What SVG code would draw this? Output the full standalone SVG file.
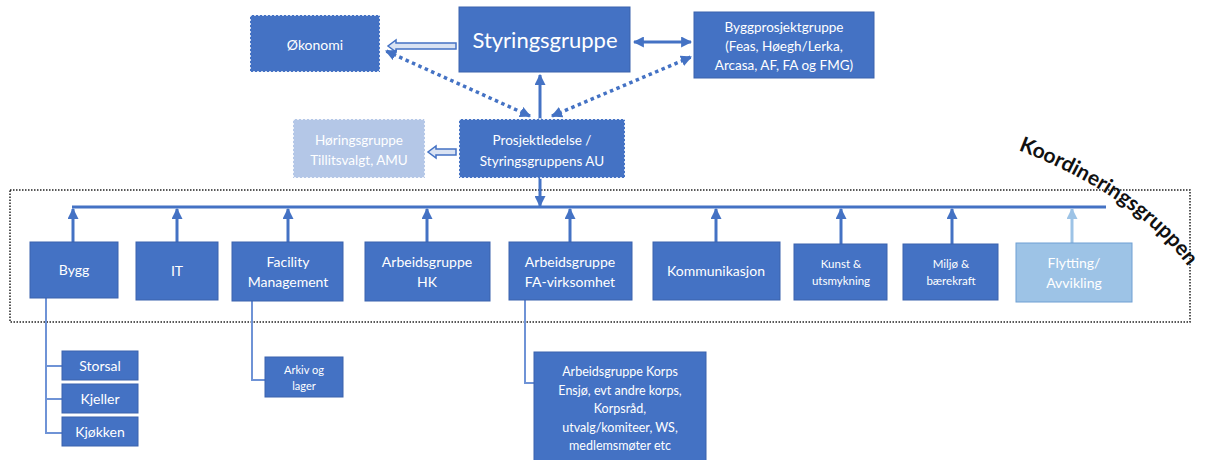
<svg xmlns="http://www.w3.org/2000/svg" width="1220" height="460" viewBox="0 0 1220 460">
<defs>
<style>
.box{fill:#4472c4;stroke:#3a62ad;stroke-width:1}
.dbox{fill:#4472c4;stroke:#ffffff;stroke-width:1.5;stroke-dasharray:2 2}
.lbox{fill:#b4c7e7;stroke:#ffffff;stroke-width:1.5;stroke-dasharray:2 2}
.fbox{fill:#9dc3e6;stroke:#6f9fd3;stroke-width:1}
.t{font-family:Lato,"Open Sans","Liberation Sans",sans-serif;fill:#ffffff;text-anchor:middle}
.up{stroke:#4472c4;stroke-width:3;fill:none;marker-end:url(#ah)}
.sub{stroke:#6f93d6;stroke-width:2;fill:none}
.dot{stroke:#4472c4;stroke-width:3.5;stroke-dasharray:3.5 3.5;fill:none;marker-start:url(#ah);marker-end:url(#ah)}
</style>
<marker id="ah" viewBox="0 0 10 10" refX="9" refY="5" markerUnits="userSpaceOnUse" markerWidth="11" markerHeight="11" orient="auto-start-reverse"><path d="M0,0 L10,5 L0,10 Z" fill="#4472c4"/></marker>
<marker id="ahl" viewBox="0 0 10 10" refX="9" refY="5" markerUnits="userSpaceOnUse" markerWidth="11" markerHeight="11" orient="auto-start-reverse"><path d="M0,0 L10,5 L0,10 Z" fill="#9dc3e6"/></marker>
</defs>

<g id="koordineringsgruppen-frame">
<rect x="10" y="190" width="1180" height="132" fill="none" stroke="#222" stroke-width="1.5" stroke-dasharray="1.5 1.5"/>
<path id="kpath" d="M1018,150 Q1152,202 1204,290" fill="none"/>
<text style="font-family:Lato,'Open Sans','Liberation Sans',sans-serif;font-weight:bold;font-size:21px;fill:#111"><textPath href="#kpath">Koordineringsgruppen</textPath></text>
</g>

<g id="connectors">
<path d="M456,43 L396,43 L396,40 L388,46 L396,52 L396,49 L456,49 Z" fill="#dae3f3" stroke="#4472c4" stroke-width="1.5"/>
<path d="M456,149 L436,149 L436,146 L428,152 L436,158 L436,155 L456,155 Z" fill="#dae3f3" stroke="#4472c4" stroke-width="1.5"/>
<line x1="634" y1="42" x2="691" y2="42" class="up" style="marker-start:url(#ah)"/>
<line x1="530" y1="116" x2="386" y2="51" class="dot"/>
<line x1="552" y1="116" x2="691" y2="57" class="dot"/>
<line x1="540" y1="119" x2="540" y2="75" class="up"/>
<line x1="540" y1="178" x2="540" y2="206" class="up"/>
<line x1="72" y1="207" x2="1106" y2="207" stroke="#4472c4" stroke-width="3"/>
<line x1="73" y1="242" x2="73" y2="209" class="up"/>
<line x1="177" y1="242" x2="177" y2="209" class="up"/>
<line x1="288" y1="242" x2="288" y2="209" class="up"/>
<line x1="427" y1="242" x2="427" y2="209" class="up"/>
<line x1="570" y1="242" x2="570" y2="209" class="up"/>
<line x1="716" y1="242" x2="716" y2="209" class="up"/>
<line x1="841" y1="244" x2="841" y2="209" class="up"/>
<line x1="952" y1="244" x2="952" y2="209" class="up"/>
<line x1="1072" y1="243" x2="1072" y2="209" stroke="#9dc3e6" stroke-width="3" marker-end="url(#ahl)"/>
<path d="M46,298 V433 H62 M46,366 H62 M46,399 H62" class="sub"/>
<path d="M252,301 V380 H265" class="sub"/>
<path d="M525,300 V383 H534" class="sub"/>
</g>

<g id="okonomi"><rect x="250" y="15" width="130" height="57" class="dbox"/><text x="315" y="50" class="t" font-size="14">Økonomi</text></g>
<g id="styringsgruppe"><rect x="459" y="7" width="171" height="65" class="box"/><text x="545" y="48" class="t" font-size="22">Styringsgruppe</text></g>
<g id="byggprosjektgruppe"><rect x="694" y="12" width="180" height="66" class="box"/>
<text class="t" font-size="13.5"><tspan x="784" y="32">Byggprosjektgruppe</tspan><tspan x="784" y="51">(Feas, Høegh/Lerka,</tspan><tspan x="784" y="70">Arcasa, AF, FA og FMG)</tspan></text></g>
<g id="horingsgruppe"><rect x="293" y="119" width="132" height="59" class="lbox"/>
<text class="t" font-size="13.5"><tspan x="359" y="145">Høringsgruppe</tspan><tspan x="359" y="165">Tillitsvalgt, AMU</tspan></text></g>
<g id="prosjektledelse"><rect x="459" y="119" width="166" height="59" class="dbox"/>
<text class="t" font-size="13.5"><tspan x="542" y="145">Prosjektledelse /</tspan><tspan x="542" y="166">Styringsgruppens AU</tspan></text></g>

<g id="bygg"><rect x="30" y="242" width="88" height="56" class="box"/><text x="74" y="275" class="t" font-size="14">Bygg</text></g>
<g id="it"><rect x="136" y="242" width="82" height="58" class="box"/><text x="177" y="276" class="t" font-size="14">IT</text></g>
<g id="facility"><rect x="232" y="242" width="111" height="59" class="box"/>
<text class="t" font-size="14"><tspan x="288" y="267">Facility</tspan><tspan x="288" y="287">Management</tspan></text></g>
<g id="hk"><rect x="365" y="242" width="125" height="59" class="box"/>
<text class="t" font-size="14"><tspan x="427" y="267">Arbeidsgruppe</tspan><tspan x="427" y="287">HK</tspan></text></g>
<g id="fa"><rect x="509" y="242" width="123" height="58" class="box"/>
<text class="t" font-size="14"><tspan x="570" y="267">Arbeidsgruppe</tspan><tspan x="570" y="287">FA-virksomhet</tspan></text></g>
<g id="kommunikasjon"><rect x="653" y="242" width="127" height="58" class="box"/><text x="716" y="276" class="t" font-size="14">Kommunikasjon</text></g>
<g id="kunst"><rect x="794" y="244" width="93" height="56" class="box"/>
<text class="t" font-size="11.5"><tspan x="841" y="268">Kunst &amp;</tspan><tspan x="841" y="285">utsmykning</tspan></text></g>
<g id="miljo"><rect x="903" y="244" width="95" height="56" class="box"/>
<text class="t" font-size="11.5"><tspan x="951" y="268">Miljø &amp;</tspan><tspan x="951" y="285">bærekraft</tspan></text></g>
<g id="flytting"><rect x="1016" y="243" width="116" height="59" class="fbox"/>
<text class="t" font-size="14"><tspan x="1074" y="268">Flytting/</tspan><tspan x="1074" y="288">Avvikling</tspan></text></g>

<g id="storsal"><rect x="62" y="351" width="76" height="29" class="box"/><text x="100" y="371" class="t" font-size="14">Storsal</text></g>
<g id="kjeller"><rect x="62" y="384" width="76" height="29" class="box"/><text x="100" y="404" class="t" font-size="14">Kjeller</text></g>
<g id="kjokken"><rect x="62" y="417" width="76" height="29" class="box"/><text x="100" y="437" class="t" font-size="14">Kjøkken</text></g>
<g id="arkiv"><rect x="265" y="357" width="78" height="40" class="box"/>
<text class="t" font-size="11"><tspan x="304" y="374">Arkiv og</tspan><tspan x="304" y="390">lager</tspan></text></g>
<g id="korps"><rect x="534" y="352" width="172" height="112" class="box"/>
<text class="t" font-size="12.5"><tspan x="620" y="376">Arbeidsgruppe Korps</tspan><tspan x="620" y="395">Ensjø, evt andre korps,</tspan><tspan x="620" y="413">Korpsråd,</tspan><tspan x="620" y="432">utvalg/komiteer, WS,</tspan><tspan x="620" y="450">medlemsmøter etc</tspan></text></g>
</svg>
